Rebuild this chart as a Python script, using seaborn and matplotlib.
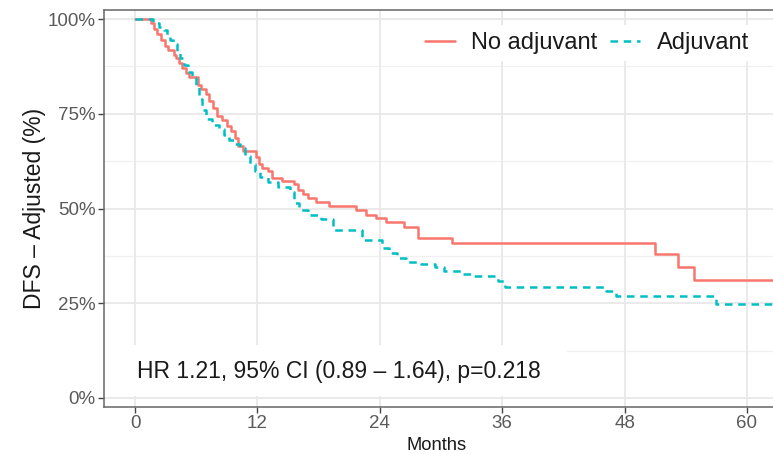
import matplotlib
matplotlib.use("Agg")
import matplotlib.pyplot as plt
from matplotlib.patches import Rectangle
import seaborn as sns
import pandas as pd

# ---- data ----
groups = ["No adjuvant", "Adjuvant"]

no_adj_time = [0, 1.6, 1.9, 2.2, 2.5, 2.9, 3.2, 3.8, 4.0, 4.3,
               4.6, 5.0, 5.3, 6.2, 6.5, 7.0, 7.3, 7.6, 8.0, 8.5,
               9.0, 9.4, 9.8, 10.1, 10.6, 11.9, 12.2, 12.5, 13.0, 13.4,
               14.4, 15.6, 16.0, 16.5, 17.0, 17.7, 19.0, 21.7, 22.6, 23.6,
               24.6, 26.4, 27.7, 31.1, 51.0, 53.2, 54.8, 64.0]
no_adj_surv = [100, 99, 97.5, 96, 94.5, 93, 91.8, 90.5, 89.6, 88.3,
               87, 85.8, 84.8, 82.5, 81.5, 80.2, 78.5, 76.5, 74.5, 73.3,
               71.8, 70.5, 68.5, 66.5, 65.2, 63.5, 61.8, 60.8, 59.9, 58.0,
               57.3, 56.5, 54.8, 53.8, 52.8, 51.8, 50.6, 49.6, 48.4, 47.4,
               46.4, 45.2, 42.1, 40.8, 38.0, 34.6, 31.1, 31.1]

adj_time = [0, 1.8, 2.4, 2.8, 3.1, 3.4, 3.7, 4.1, 4.4, 4.8,
            5.2, 5.6, 6.0, 6.3, 6.6, 7.0, 7.5, 8.2, 8.7, 9.2,
            9.7, 10.3, 10.8, 11.3, 11.8, 12.3, 13.0, 14.0, 15.2, 15.6,
            16.1, 17.0, 18.2, 19.4, 22.3, 24.2, 24.9, 25.7, 26.6, 28.0,
            29.4, 30.3, 32.0, 32.9, 35.6, 36.3, 46.2, 47.2, 57.0, 64.0]
adj_surv = [100, 99, 98, 97, 95.8, 94.6, 93.3, 91.5, 89.8, 88,
            86, 84.5, 82.5, 79, 76, 73.5, 72.0, 71, 69.5, 68.0,
            67.0, 66.0, 63.8, 61.8, 60.0, 58.2, 57.0, 55.8, 54.4, 51.5,
            49.5, 48.3, 47.2, 44.2, 41.7, 39.5, 38.3, 37.0, 36.0, 35.4,
            34.6, 33.5, 32.8, 32.2, 30.8, 29.3, 28.1, 26.9, 24.8, 24.8]

x_ticks = [0, 12, 24, 36, 48, 60]
y_ticks = [0, 25, 50, 75, 100]
y_ticklabels = ["0%", "25%", "50%", "75%", "100%"]
y_minor = [12.5, 37.5, 62.5, 87.5]
annotation = "HR 1.21, 95% CI (0.89 \u2013 1.64), p=0.218"

df = pd.concat([
    pd.DataFrame({"time": no_adj_time, "surv": no_adj_surv, "group": groups[0]}),
    pd.DataFrame({"time": adj_time, "surv": adj_surv, "group": groups[1]}),
], ignore_index=True)

# ---- style ----
sns.set_theme(style="white")
plt.rcParams["font.family"] = ["Liberation Sans", "DejaVu Sans"]

W, H = 773, 454
fig = plt.figure(figsize=(W / 100, H / 100), dpi=100)
ax_l, ax_r, ax_t, ax_b = 104, 800, 10, 407
ax = fig.add_axes([ax_l / W, (H - ax_b) / H, (ax_r - ax_l) / W, (ax_b - ax_t) / H])

palette = {"No adjuvant": "#F8766D", "Adjuvant": "#00BFC4"}
dashes = {"No adjuvant": "", "Adjuvant": (3.0, 2.3)}

ax.set_xlim(-3.04, 65.2)
ax.set_ylim(-2.4, 102.4)

# grid
for yv in y_minor:
    ax.axhline(yv, color="#F0F0F0", lw=0.9, zorder=0)
for yv in y_ticks:
    ax.axhline(yv, color="#E8E8E8", lw=1.3, zorder=0)
for xv in x_ticks:
    ax.axvline(xv, color="#E8E8E8", lw=1.3, zorder=0)

# white box behind annotation
ax.add_patch(Rectangle((-3.04, 0.6), 45.4, 13.3, facecolor="white",
                       edgecolor="none", zorder=1))

sns.lineplot(data=df, x="time", y="surv", hue="group", style="group",
             palette=palette, dashes=dashes, drawstyle="steps-post",
             estimator=None, sort=False, lw=1.8, legend=False, ax=ax, zorder=3)

ax.text(0.2, 6.9, annotation, fontsize=16.5, color="#1a1a1a",
        va="center", ha="left", zorder=4)

# legend
handles = ax.get_lines()[-2:]
leg = ax.legend(handles, groups, loc="center",
                bbox_to_anchor=((587 - ax_l) / (ax_r - ax_l), (ax_b - 43) / (ax_b - ax_t)),
                ncol=2, frameon=True, fontsize=17, handlelength=1.25,
                handletextpad=0.7, columnspacing=0.55, borderpad=0.3)
leg.get_frame().set_facecolor("white")
leg.get_frame().set_edgecolor("none")
leg.get_frame().set_alpha(1)
leg.set_zorder(5)
for t in leg.get_texts():
    t.set_color("#1a1a1a")

# axes styling
ax.set_xticks(x_ticks)
ax.set_xticklabels([str(v) for v in x_ticks])
ax.set_yticks(y_ticks)
ax.set_yticklabels(y_ticklabels)
ax.tick_params(axis="both", labelsize=13.5, labelcolor="#5a5a5a", color="#444444",
               length=4, width=1, direction="out", pad=2, bottom=True, left=True)
for s in ["left", "bottom", "top"]:
    ax.spines[s].set_color("#666666")
    ax.spines[s].set_linewidth(1.1)
ax.spines["right"].set_visible(False)

ax.set_xlabel("Months", fontsize=13.2, color="#1a1a1a")
ax.xaxis.set_label_coords((437 - ax_l) / (ax_r - ax_l), -0.075)
ax.set_ylabel("DFS \u2013 Adjusted (%)", fontsize=16.5, color="#1a1a1a")
ax.yaxis.set_label_coords(-(104 - 46) / (ax_r - ax_l), 0.5)

fig.savefig("out.png", dpi=100)
